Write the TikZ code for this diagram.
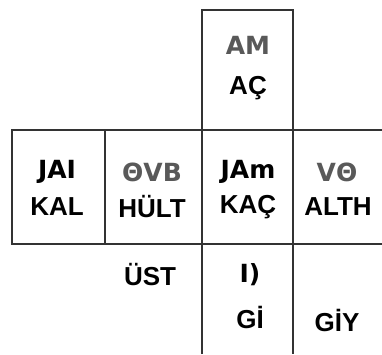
\documentclass[tikz,border=0pt]{standalone}
\usepackage{fontspec}
\setmainfont{Liberation Sans}
\newfontfamily\runefont{DejaVu Sans}
\tikzset{
  grid/.style={draw=black!80, line width=1.8pt},
  lat/.style={font=\bfseries\fontsize{26}{28}\selectfont, text=black, inner sep=0pt},
  rune/.style={font=\runefont\bfseries\fontsize{25}{27}\selectfont, text=black, inner sep=0pt},
  runegray/.style={rune, text=black!65},
}
\begin{document}
\begin{tikzpicture}[x=1pt,y=-1pt]
\useasboundingbox (0,0) rectangle (382,354);
% grid lines
\draw[grid] (202,354) -- (202,10) -- (293,10) -- (293,354);
\draw[grid] (382,130) -- (12,130) -- (12,244) -- (382,244);
\draw[grid] (105,130) -- (105,244);
% texts
\node[runegray] (am) at (248,45) {AM};
\node[lat] (ac) at (248,88) {AÇ};
\node[rune] (jai) at (57,172) {JAI};
\node[lat] (kal) at (57,207) {KAL};
\node[runegray] (ovb) at (152,172) {ΘVB};
\node[lat] (hult) at (152,207) {HÜLT};
\node[rune] (jam) at (248,172) {JAm};
\node[lat] (kac) at (248,207) {KAÇ};
\node[runegray] (vo) at (337,172) {VΘ};
\node[lat] (alth) at (338,207) {ALTH};
\node[lat] (ust) at (150,275) {ÜST};
\node[rune] (i) at (250,275) {I)};
\node[lat] (gi) at (250,317) {Gİ};
\node[lat] (giy) at (337,320) {GİY};
\end{tikzpicture}
\end{document}
